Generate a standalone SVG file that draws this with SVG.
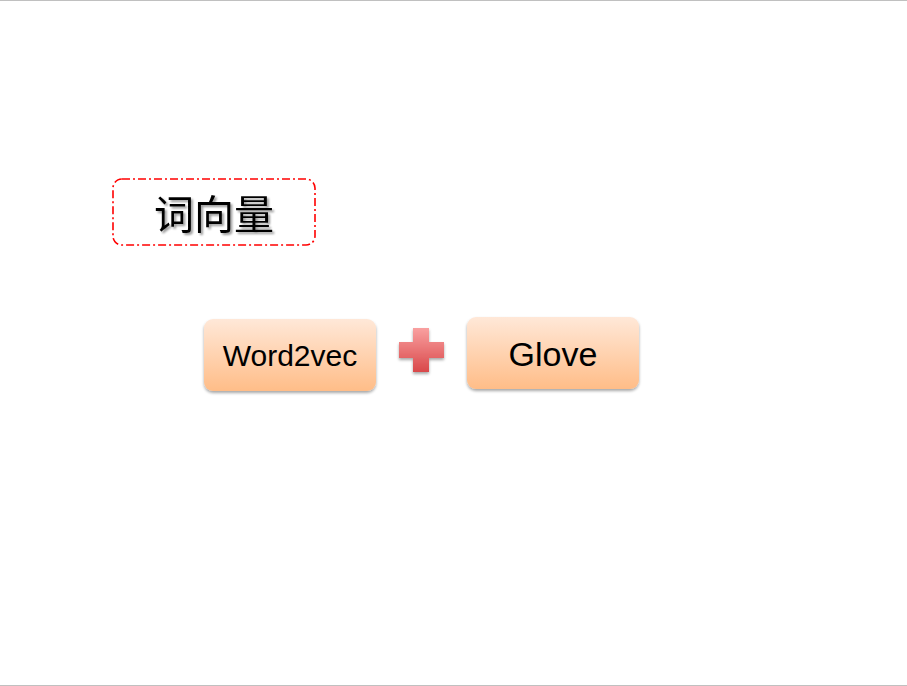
<svg xmlns="http://www.w3.org/2000/svg" width="907" height="686" viewBox="0 0 907 686">
<defs>
<linearGradient id="og" x1="0" y1="0" x2="0" y2="1">
<stop offset="0" stop-color="#ffe8d8"/>
<stop offset="1" stop-color="#ffbd88"/>
</linearGradient>
<linearGradient id="rg" x1="0" y1="0" x2="0" y2="1">
<stop offset="0" stop-color="#f9a0a0"/>
<stop offset="1" stop-color="#d9484a"/>
</linearGradient>
<filter id="sh" x="-10%" y="-10%" width="130%" height="140%">
<feGaussianBlur in="SourceAlpha" stdDeviation="1.5"/>
<feOffset dx="0" dy="2" result="b"/>
<feComponentTransfer><feFuncA type="linear" slope="0.35"/></feComponentTransfer>
<feMerge><feMergeNode/><feMergeNode in="SourceGraphic"/></feMerge>
</filter>
<filter id="tsh" x="-10%" y="-10%" width="130%" height="140%">
<feGaussianBlur in="SourceAlpha" stdDeviation="1"/>
<feOffset dx="1.5" dy="1.5"/>
<feComponentTransfer><feFuncA type="linear" slope="0.4"/></feComponentTransfer>
<feMerge><feMergeNode/><feMergeNode in="SourceGraphic"/></feMerge>
</filter>
</defs>
<style>
.box{fill:url(#og);filter:url(#sh)}
.lbl{font-family:"Liberation Sans",Arial,sans-serif;fill:#000;text-anchor:middle}
</style>
<rect x="0" y="0" width="907" height="686" fill="#fff"/>
<line x1="0" y1="0.5" x2="907" y2="0.5" stroke="#c0c0c0" stroke-width="1"/>
<line x1="0" y1="685.5" x2="907" y2="685.5" stroke="#c0c0c0" stroke-width="1"/>
<g id="title">
<rect x="113" y="179" width="202" height="66" rx="9" fill="#fff" stroke="#ff0000" stroke-width="1.6" stroke-dasharray="8,3,2,3"/>
<text x="214" y="229" font-family="'Liberation Sans','Noto Sans CJK SC',sans-serif" font-size="40" text-anchor="middle" filter="url(#tsh)">词向量</text>
</g>
<g id="word2vec">
<rect class="box" x="204" y="319" width="172" height="72" rx="9"/>
<text class="lbl" x="290" y="366" font-size="30">Word2vec</text>
</g>
<g id="plus">
<path d="M413,328 H429 V342 H444 V358 H429 V372 H413 V358 H399 V342 H413 Z" fill="url(#rg)" filter="url(#sh)"/>
</g>
<g id="glove">
<rect class="box" x="467" y="317" width="172" height="72" rx="9"/>
<text class="lbl" x="553" y="366" font-size="34">Glove</text>
</g>
<g id="connectors"/>
</svg>
